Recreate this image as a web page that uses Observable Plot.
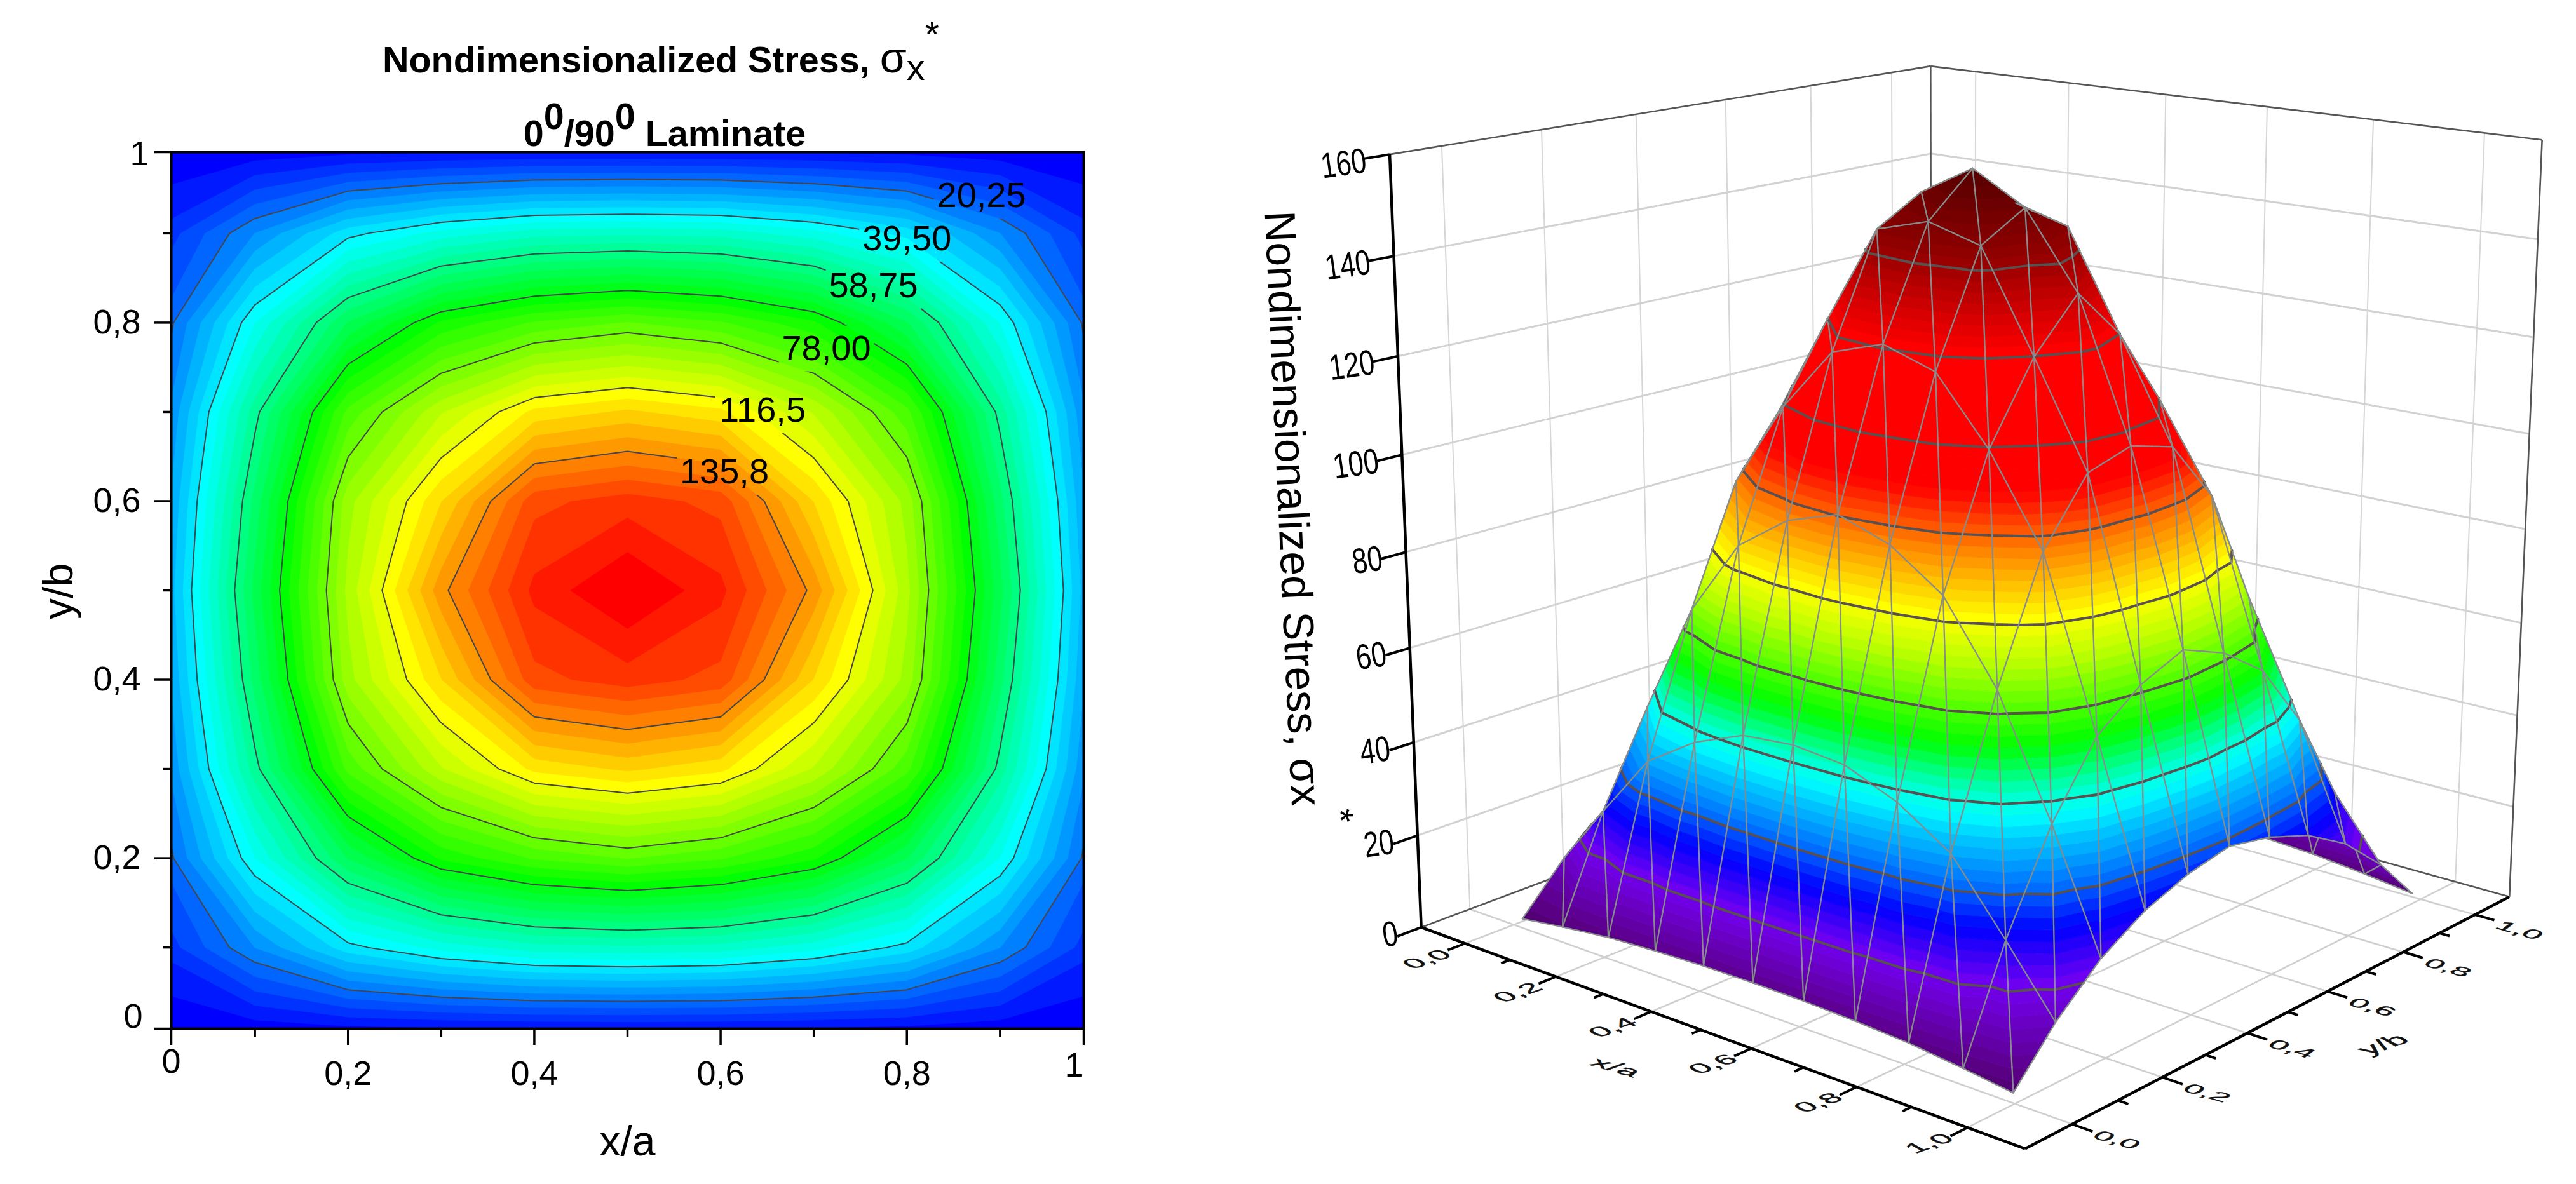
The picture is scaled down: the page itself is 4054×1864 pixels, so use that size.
<!DOCTYPE html>
<html>
<head>
<meta charset="utf-8">
<script src="https://cdn.jsdelivr.net/npm/d3@7"></script>
<script src="https://cdn.jsdelivr.net/npm/@observablehq/plot@0.6"></script>
<style>
  html,body{margin:0;padding:0;background:#fff;width:4054px;height:1864px;overflow:hidden}
  #left,#right{position:absolute;top:0}
  #left{left:0}#right{left:2000px}
  .ttl{position:absolute;font-family:"Liberation Sans",Arial,sans-serif;font-weight:700;font-size:57.5px;line-height:60px;white-space:nowrap;color:#000;transform:translateX(-50%)}
  .ttl .sup{position:relative;top:-27px}
  .ttl .sig{font-weight:400;font-size:68px}
  .ttl .sub{position:relative;top:12px;font-weight:400}
  .ttl .star{position:relative;top:-40px;font-weight:400;font-size:58px}
</style>
</head>
<body>
<div id="left"></div>
<div id="right"></div>
<div class="ttl" style="left:1040px;top:60px">Nondimensionalized Stress, <span class="sig">σ</span><span class="sub">x</span><span class="star">*</span></div>
<div class="ttl" style="left:1046px;top:180px">0<span class="sup">0</span>/90<span class="sup">0</span> Laminate</div>
<script>
// ---------- data ----------
// stress on the 11×11 grid; first row is y/b = 1, first column is x/a = 0
const row10 = [0.3, 0.5, 0.5, 0.5, 0.5, 0.5, 0.5, 0.5, 0.5, 0.5, 0.3];
const row09 = [9.7, 24.2, 38, 45, 49.4, 50.2, 49.4, 45, 38, 24.2, 9.7];
const row08 = [16.9, 43.3, 66.8, 82.6, 90.1, 93.7, 90.1, 82.6, 66.8, 43.3, 16.9];
const row07 = [21.5, 57.1, 90.8, 108.4, 121.5, 125, 121.5, 108.4, 90.8, 57.1, 21.5];
const row06 = [24.5, 64, 103.5, 124.1, 146, 149.3, 146, 124.1, 103.5, 64, 24.5];
const row05 = [26.2, 67.8, 106.2, 134.4, 152.3, 159.3, 152.3, 134.4, 106.2, 67.8, 26.2];
const row04 = [24.5, 64, 103.5, 124.1, 146, 149.3, 146, 124.1, 103.5, 64, 24.5];
const row03 = [21.5, 57.1, 90.8, 108.4, 121.5, 125, 121.5, 108.4, 90.8, 57.1, 21.5];
const row02 = [16.9, 43.3, 66.8, 82.6, 90.1, 93.7, 90.1, 82.6, 66.8, 43.3, 16.9];
const row01 = [9.7, 24.2, 38, 45, 49.4, 50.4, 49.4, 45, 38, 24.2, 9.7];
const row00 = [0.3, 0.5, 0.5, 0.5, 0.5, 0.5, 0.5, 0.5, 0.5, 0.5, 0.3];
const rows = [row10,row09,row08,row07,row06,row05,row04,row03,row02,row01,row00];
const flat = rows.flat();
// the crest as it reads on the 3D panel
const peak06 = [24.5, 64, 103.5, 124.1, 144, 147.1, 144, 124.1, 103.5, 64, 24.5];
const peak05 = [26.2, 67.8, 106.2, 134.4, 149.6, 155.8, 149.6, 134.4, 106.2, 67.8, 26.2];
const surfaceRows = [row10,row09,row08,row07,peak06,peak05,peak06,row03,row02,row01,row00];

const contourLevels = [20.25, 39.5, 58.75, 78, 97.25, 116.5, 135.75];
const contourLabels = ["20,25","39,50","58,75","78,00","116,5","135,8"];
const labelX = [0.880, 0.800, 0.764, 0.7135, 0.645, 0.604];
const labelY = [0.942, 0.894, 0.841, 0.771, 0.702, 0.6325];
const majorInner = [0.2, 0.4, 0.6, 0.8];
const minorTicks = [0.1, 0.3, 0.5, 0.7, 0.9];
const xEnds = [0.0102, 0.9898];   // the frame edges, which the source labels 0 and 1
const yEnds = [0.009, 0.991];
const comma = d => String(d).replace(".", ",");
const FONT = '"Liberation Sans",Arial,sans-serif';

const rainbowDomain = [1, 39.5, 78, 116.5, 155];
const rainbowRange = ["#0000ff", "#00ffff", "#00ff00", "#ffff00", "#ff0000"];
const bandLevels = d3.range(0, 41).map(k => 1 + 3.85 * k);

// ---------- left panel ----------
const left = Plot.plot({
  width: 2000, height: 1864,
  marginLeft: 269, marginRight: 295, marginTop: 239, marginBottom: 245,
  style: {background: "white", fontFamily: FONT, overflow: "visible"},
  x: {domain: xEnds, axis: null},
  y: {domain: yEnds, axis: null},
  color: {type: "linear", domain: rainbowDomain, range: rainbowRange, interpolate: "rgb"},
  marks: [
    Plot.frame({fill: "#0000ff"}),
    Plot.contour(flat, {x1: -0.05, x2: 1.05, y1: 1.05, y2: -0.05, width: 11, height: 11,
      fill: Plot.identity, thresholds: bandLevels, clip: "frame"}),
    Plot.contour(flat, {x1: -0.05, x2: 1.05, y1: 1.05, y2: -0.05, width: 11, height: 11,
      value: Plot.identity, fill: "none", stroke: "#45454d", strokeWidth: 2, thresholds: contourLevels,
      clip: "frame", className: "clines"}),
    Plot.frame({stroke: "#000", strokeWidth: 4}),
    // ticks
    Plot.axisX([xEnds[0], ...majorInner, xEnds[1]], {anchor: "bottom", tickSize: 26, tickFormat: null, strokeWidth: 3.5, label: null, text: null}),
    Plot.axisX(minorTicks, {anchor: "bottom", tickSize: 13, tickFormat: null, strokeWidth: 3.5, label: null, text: null}),
    Plot.axisY([yEnds[0], ...majorInner, yEnds[1]], {anchor: "left", tickSize: 26, tickFormat: null, strokeWidth: 3.5, label: null, text: null}),
    Plot.axisY(minorTicks, {anchor: "left", tickSize: 13, tickFormat: null, strokeWidth: 3.5, label: null, text: null}),
    // tick labels
    Plot.text(majorInner, {x: d => d, y: () => yEnds[0], text: comma, fontSize: 54, dy: 71, lineAnchor: "middle"}),
    Plot.text(["0"], {x: () => xEnds[0], y: () => yEnds[0], text: d => d, fontSize: 54, dy: 52, lineAnchor: "middle"}),
    Plot.text(["1"], {x: () => xEnds[1], y: () => yEnds[0], text: d => d, fontSize: 54, dx: -15, dy: 58, lineAnchor: "middle"}),
    Plot.text(majorInner, {y: d => d, x: () => xEnds[0], text: comma, fontSize: 54, dx: -48, textAnchor: "end", lineAnchor: "middle"}),
    Plot.text(["0"], {y: () => yEnds[0], x: () => xEnds[0], text: d => d, fontSize: 54, dx: -45, dy: -19, textAnchor: "end", lineAnchor: "middle"}),
    Plot.text(["1"], {y: () => yEnds[1], x: () => xEnds[0], text: d => d, fontSize: 54, dx: -35, dy: 3, textAnchor: "end", lineAnchor: "middle"}),
    // axis titles
    Plot.text(["x/a"], {x: () => 0.5, y: () => -0.118, fontSize: 66, lineAnchor: "middle", text: d => d}),
    Plot.text(["y/b"], {x: () => -0.1105, y: () => 0.499, fontSize: 66, rotate: -90, lineAnchor: "middle", text: d => d}),
    // contour labels
    Plot.text(contourLabels, {x: (d, i) => labelX[i], y: (d, i) => labelY[i], text: d => d, fontSize: 56, fill: "#000", lineAnchor: "middle"})
  ]
});
document.getElementById("left").append(left);

// gaps in the contour lines behind their labels
{
  const sx = left.scale("x"), sy = left.scale("y");
  const svg = d3.select(left);
  const mask = svg.append("defs").append("mask").attr("id", "labelGaps")
    .attr("maskUnits", "userSpaceOnUse").attr("x", 0).attr("y", 0).attr("width", 2000).attr("height", 1864);
  mask.append("rect").attr("width", 2000).attr("height", 1864).attr("fill", "#fff");
  contourLabels.forEach((d, i) => {
    mask.append("rect").attr("x", sx.apply(labelX[i]) - 75).attr("y", sy.apply(labelY[i]) - 36)
      .attr("width", 150).attr("height", 72).attr("fill", "#000");
  });
  svg.selectAll(".clines").attr("mask", "url(#labelGaps)");
}

// ---------- right panel: perspective camera fitted to the box ----------
// world: x/a, y/b, z/160  →  screen pixel
const fitWorld = [[-.1,-.1,0],[1.1,-.1,0],[1.1,1.1,0],[-.1,-.1,1],[1.1,1.1,1],[-.1,1.1,1],[-.1,-.1,.875],[-.1,-.1,.5],
  [0,-.1,0],[.2,-.1,0],[.4,-.1,0],[1,-.1,0],[1.1,0,0],[1.1,.2,0],[1.1,.4,0],[1.1,1,0]];
const fitPixel = [[2237,1459],[3189,1810],[3945,1409],[2187,241],[4000,221],[3037,103],[2195,402],[2210,872],
  [2307,1485],[2447,1537],[2597,1592],[3090,1775],[3263,1768],[3403,1695],[3535,1623],[3900,1443]];
function fitCamera() {
  const A = [], b = [];
  fitWorld.forEach(([X,Y,Z], i) => {
    const u = (fitPixel[i][0] - 3000) / 1000, v = (fitPixel[i][1] - 1000) / 1000;
    A.push([X,Y,Z,1,0,0,0,0,-u*X,-u*Y,-u*Z]); b.push(u);
    A.push([0,0,0,0,X,Y,Z,1,-v*X,-v*Y,-v*Z]); b.push(v);
  });
  const n = 11, M = d3.range(n).map(r => d3.range(n + 1).map(c =>
    c < n ? d3.sum(A, (a) => a[r] * a[c]) : d3.sum(A, (a, k) => a[r] * b[k])));
  for (let c = 0; c < n; c++) {
    let p = c; for (let r = c + 1; r < n; r++) if (Math.abs(M[r][c]) > Math.abs(M[p][c])) p = r;
    [M[c], M[p]] = [M[p], M[c]];
    for (let r = 0; r < n; r++) if (r !== c) { const f = M[r][c] / M[c][c]; for (let k = c; k <= n; k++) M[r][k] -= f * M[c][k]; }
  }
  return d3.range(n).map(i => M[i][n] / M[i][i]);
}
const cam = fitCamera();
const project = (x, y, z) => {
  const Z = z / 160, w = cam[8]*x + cam[9]*y + cam[10]*Z + 1;
  return [1000 * (cam[0]*x + cam[1]*y + cam[2]*Z + cam[3]) / w + 3000,
          1000 * (cam[4]*x + cam[5]*y + cam[6]*Z + cam[7]) / w + 1000];
};

// surface colours by height
const heightDomain = [0, 5, 16, 25, 32, 40, 44, 48, 56, 70, 78, 90, 100, 124, 140, 158];
const heightRange = ["#50006e","#5f0096","#7300f0","#0000ff","#006eff","#00c8ff","#00ffff","#00ffc8","#00ff00","#b4ff00","#ffff00","#ff8200","#ff0000","#ff0000","#960000","#460000"];
const heightColor = d3.scaleLinear().domain(heightDomain).range(heightRange).interpolate(d3.interpolateRgb);

const zAt = (x, y) => {
  const fx = Math.min(Math.max(x, 0), 1) * 10, fy = (1 - Math.min(Math.max(y, 0), 1)) * 10;
  const i = Math.min(Math.floor(fx), 9), j = Math.min(Math.floor(fy), 9), a = fx - i, b = fy - j;
  const R = surfaceRows;
  return R[j][i]*(1-a)*(1-b) + R[j][i+1]*a*(1-b) + R[j+1][i]*(1-a)*b + R[j+1][i+1]*a*b;
};

const STEP = 1.925;
const surfaceLevels = d3.range(0, 84).map(k => 1 + STEP * (k - 1));
const meshLevels3d = [16.4, 31.8, 47.2, 62.6, 78, 93.4, 108.8, 124.2, 139.6];
const binOf = z => Math.min(Math.max(Math.ceil((z - 1) / STEP) + 1, 0), surfaceLevels.length - 1);

// triangulated surface: the node at the rim sits on the frame edge, as in the left panel
const edgeX = i => i === 0 ? xEnds[0] : i === 10 ? xEnds[1] : i / 10;
const edgeY = j => j === 0 ? yEnds[0] : j === 10 ? yEnds[1] : j / 10;
const node = (i, j) => { const x = edgeX(i), y = edgeY(j), z = zAt(x, y); return {key: i + "," + j, w: [x, y, z], p: project(x, y, z)}; };
const area = (a, b, c) => (b[0]-a[0])*(c[1]-a[1]) - (b[1]-a[1])*(c[0]-a[0]);
const refSign = Math.sign(area(project(0,0,0), project(.1,0,0), project(0,.1,0)));
const frontTris = [], backTris = [];
for (let i = 0; i < 10; i++) for (let j = 0; j < 10; j++) {
  for (const tri of [[node(i,j),node(i+1,j),node(i,j+1)], [node(i+1,j),node(i+1,j+1),node(i,j+1)]])
    (Math.sign(area(tri[0].p, tri[1].p, tri[2].p)) === refSign ? frontTris : backTris).push(tri);
}
const lerp3 = (a, b, t) => [a[0]+(b[0]-a[0])*t, a[1]+(b[1]-a[1])*t, a[2]+(b[2]-a[2])*t];
// keep the part of a polygon on one side of a height
const clipZ = (poly, level, keepAbove) => {
  const out = [], inside = p => keepAbove ? p[2] >= level : p[2] <= level;
  poly.forEach((p, i) => {
    const q = poly[(i + 1) % poly.length];
    if (inside(p)) out.push(p);
    if (inside(p) !== inside(q)) out.push(lerp3(p, q, (level - p[2]) / (q[2] - p[2])));
  });
  return out;
};
const feature = (geometry, fill, stroke, sw) => ({type: "Feature", properties: {fill, stroke, sw}, geometry});

function paintLayer(triangles) {
  const bins = surfaceLevels.map(() => ({fills: [], lines: []}));
  // filled bands per triangle, low to high, so that the hill hides what is behind it
  for (const tri of triangles) {
    const pts = tri.map(n => n.w), lo3 = d3.min(pts, p => p[2]), hi3 = d3.max(pts, p => p[2]);
    surfaceLevels.forEach((t, k) => {
      if (t + STEP < lo3 || t > hi3) return;
      const poly = clipZ(clipZ(pts, t, true), t + STEP, false);
      if (poly.length < 3) return;
      const ring = poly.map(p => project(...p)); ring.push(ring[0]);
      const c = heightColor(t);
      bins[k].fills.push(feature({type: "Polygon", coordinates: [ring]}, c, c, 1));
    });
  }
  // contour lines
  for (const t of meshLevels3d) {
    const k = Math.min(binOf(t) + 1, surfaceLevels.length - 1), segs = [];
    for (const tri of triangles) {
      const cross = [];
      tri.forEach((n, i) => {
        const a = n.w, b = tri[(i + 1) % 3].w;
        if ((a[2] < t) !== (b[2] < t)) cross.push(project(...lerp3(a, b, (t - a[2]) / (b[2] - a[2]))));
      });
      if (cross.length === 2) segs.push(cross);
    }
    if (segs.length) bins[k].lines.push(feature({type: "MultiLineString", coordinates: segs}, "none", "#5a5050", 4));
  }
  // wire mesh
  const edges = new Map();
  for (const tri of triangles) tri.forEach((n, i) => {
    const m = tri[(i + 1) % 3], key = [n.key, m.key].sort().join("|");
    if (!edges.has(key)) edges.set(key, [n, m]);
  });
  const PIECES = 6;
  for (const [a, b] of edges.values()) for (let s = 0; s < PIECES; s++) {
    const w0 = lerp3(a.w, b.w, s / PIECES), w1 = lerp3(a.w, b.w, (s + 1) / PIECES);
    bins[binOf(Math.max(w0[2], w1[2]))].lines.push(
      feature({type: "LineString", coordinates: [project(...w0), project(...w1)]}, "none", "#868c8c", 2.3));
  }
  return bins.flatMap(b => [...b.fills, ...b.lines]);
}
// the underside shows through under the rim, so it is painted first
const surfaceFeatures = [...paintLayer(backTris), ...paintLayer(frontTris)];

// box
const gridTicks = [0, 0.2, 0.4, 0.6, 0.8, 1];
const zGrid = [20, 40, 60, 80, 100, 120, 140];
const zTicks = [0, ...zGrid, 160];
const seg = (a, b) => { const p = project(...a), q = project(...b); return {x1: p[0], y1: p[1], x2: q[0], y2: q[1]}; };
const lo = -0.1, hi = 1.1;
const floorLines = [...gridTicks.map(v => seg([v,lo,0],[v,hi,0])), ...gridTicks.map(v => seg([lo,v,0],[hi,v,0]))];
const wallRows = [...zGrid.map(z => seg([lo,lo,z],[lo,hi,z])), ...zGrid.map(z => seg([lo,hi,z],[hi,hi,z]))];
const wallCols = [...gridTicks.map(v => seg([lo,v,0],[lo,v,160])), ...gridTicks.map(v => seg([v,hi,0],[v,hi,160]))];
const darkEdges = [seg([lo,lo,160],[lo,hi,160]), seg([lo,hi,160],[hi,hi,160]), seg([lo,hi,0],[lo,hi,160]), seg([hi,hi,0],[hi,hi,160]), seg([lo,lo,0],[lo,hi,0]), seg([lo,hi,0],[hi,hi,0])];
const axesEdges = [seg([lo,lo,0],[lo,lo,160]), seg([lo,lo,0],[hi,lo,0]), seg([hi,lo,0],[hi,hi,0])];
const tickSegs = [
  ...zTicks.map(z => seg([lo,lo,z],[lo,lo-0.048,z])),
  ...gridTicks.map(v => seg([v,lo,0],[v,lo-0.035,0])),
  ...minorTicks.map(v => seg([v,lo,0],[v,lo-0.018,0])),
  ...gridTicks.map(v => seg([hi,v,0],[hi+0.035,v,0])),
  ...minorTicks.map(v => seg([hi,v,0],[hi+0.018,v,0]))
];
const link = (data, o) => Plot.link(data, {x1:"x1", y1:"y1", x2:"x2", y2:"y2", ...o});
const at2d = (w, dx, dy, text) => { const p = project(...w); return {x: p[0] + dx, y: p[1] + dy, text}; };

const zLabels = zTicks.map(z => at2d([lo,lo,z], -37, 10, String(z)));
const xLabels = gridTicks.map(v => at2d([v,lo,0], -60, 25, v.toFixed(1).replace(".", ",")));
const yLabels = gridTicks.map(v => at2d([hi,v,0], 70, 25, v.toFixed(1).replace(".", ",")));
const floorText = {x: "x", y: "y", text: "text", rotate: 0.001, lineAnchor: "middle", fill: "#111", stroke: "#111", strokeWidth: 0.7};

const right = Plot.plot({
  width: 2054, height: 1864, margin: 0,
  style: {background: "white", fontFamily: FONT, overflow: "visible"},
  x: {domain: [2000, 4054], range: [0, 2054], axis: null},
  y: {domain: [0, 1864], range: [0, 1864], axis: null},
  marks: [
    link(floorLines, {stroke: "#cfcfcf", strokeWidth: 2.6}),
    link(wallCols, {stroke: "#d6d6d6", strokeWidth: 2}),
    link(wallRows, {stroke: "#d2d2d2", strokeWidth: 3}),
    link(darkEdges, {stroke: "#555", strokeWidth: 2.6}),
    Plot.geo(surfaceFeatures, {
      fill: d => d.properties.fill, stroke: d => d.properties.stroke, strokeWidth: d => d.properties.sw,
      strokeLinecap: "round"
    }),
    link(axesEdges, {stroke: "#000", strokeWidth: 4.5}),
    link(tickSegs, {stroke: "#000", strokeWidth: 4}),
    Plot.text(zLabels, {x: "x", y: "y", text: "text", fontSize: 43, textAnchor: "end", rotate: -8, lineAnchor: "middle", className: "zlab"}),
    Plot.text(xLabels, {...floorText, fontSize: 44, className: "floorA"}),
    Plot.text(yLabels, {...floorText, fontSize: 44, className: "floorB"}),
    Plot.text([{x: 2542, y: 1680, text: "x/a"}], {...floorText, fontSize: 48, className: "floorB"}),
    Plot.text([{x: 3750, y: 1644, text: "y/b"}], {...floorText, fontSize: 48, className: "floorA"}),
    Plot.text([{x: 2033, y: 800, text: "Nondimensionalized Stress, σx"}], {x: "x", y: "y", text: "text", fontSize: 68, rotate: 87.4, lineAnchor: "middle"}),
    Plot.text([{x: 2108, y: 1284, text: "*"}], {x: "x", y: "y", text: "text", fontSize: 56, rotate: 87, lineAnchor: "middle"})
  ]
});
document.getElementById("right").append(right);
const shear = (sel, m) => d3.select(right).selectAll(sel).attr("transform", function () { return this.getAttribute("transform") + ` ${m}`; });
shear(".zlab text", "scale(1,1.3)");
shear(".floorA text", "matrix(1.05,-0.36,0.68,0.38,0,0)");
shear(".floorB text", "matrix(1.1,0.32,-0.5,0.38,0,0)");
</script>
</body>
</html>
